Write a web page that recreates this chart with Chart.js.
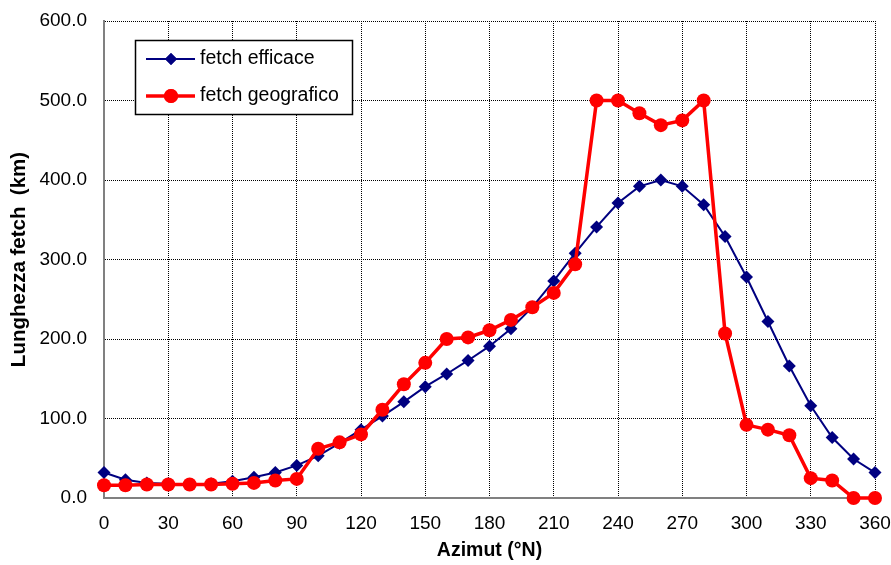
<!DOCTYPE html>
<html>
<head>
<meta charset="utf-8">
<script src="https://cdn.jsdelivr.net/npm/chart.js@4/dist/chart.umd.min.js"></script>
<style>
  html, body { margin: 0; padding: 0; background: #fff; }
  #wrap { width: 891px; height: 565px; }
</style>
</head>
<body>
<div id="wrap"><canvas id="fetchChart" width="891" height="565"></canvas></div>
<script>
// --- FETCH vs AZIMUTH ---

const azimuth = [0, 10, 20, 30, 40, 50, 60, 70, 80, 90, 100, 110, 120, 130, 140, 150, 160, 170, 180,
    190, 200, 210, 220, 230, 240, 250, 260, 270, 280, 290, 300, 310, 320, 330, 340, 350, 360];

const fetchEfficace = [32, 23, 19, 18, 17, 18, 21, 26, 32, 41, 53, 69, 86, 103, 121, 140, 156, 173, 191,
    213, 240, 273, 308, 341, 371, 392, 400, 392, 369, 329, 278, 222, 166, 116, 76, 49, 32];

const fetchGeografico = [16, 16, 17, 17, 17, 17, 18, 19, 22, 24, 62, 70, 80, 111, 143, 170, 200, 202, 211,
    224, 240, 258, 294, 500, 500, 484, 469, 475, 500, 207, 92, 86, 79, 25, 22, 0, 0];

const seriesNames = ['fetch efficace', 'fetch geografico'];
const yTicks = { min: 0, max: 600, step: 100 };
const xTicks = { min: 0, max: 360, step: 30 };

const FONT = 'Arial, "Liberation Sans", sans-serif';
const BLUE = '#000080';
const RED = '#ff0000';

const toPoints = (values) => azimuth.map((a, i) => ({ x: a, y: values[i] }));

// Legend box in the upper left of the plot, line + marker per entry
const boxLegend = {
    id: 'boxLegend',
    afterDraw(chart) {
        const ctx = chart.ctx;
        const x0 = 135, y0 = 40, w = 217, h = 74;
        ctx.save();
        ctx.fillStyle = '#fff';
        ctx.fillRect(x0, y0, w, h);
        ctx.strokeStyle = '#000';
        ctx.lineWidth = 1.5;
        ctx.strokeRect(x0 + 0.5, y0 + 0.5, w, h);

        const rows = [
            { y: 59, color: BLUE, width: 2, style: 'rectRot', radius: 6 },
            { y: 96, color: RED, width: 3.5, style: 'circle', radius: 7 }
        ];
        rows.forEach((r, i) => {
            ctx.strokeStyle = r.color;
            ctx.lineWidth = r.width;
            ctx.beginPath();
            ctx.moveTo(146, r.y);
            ctx.lineTo(195, r.y);
            ctx.stroke();
            ctx.fillStyle = r.color;
            Chart.helpers.drawPoint(ctx, { pointStyle: r.style, radius: r.radius, borderWidth: 0 }, 171, r.y);
            ctx.fill();

            ctx.fillStyle = '#000';
            ctx.font = '19.5px ' + FONT;
            ctx.textBaseline = 'middle';
            ctx.textAlign = 'left';
            ctx.fillText(seriesNames[i], 200, r.y);
        });
        ctx.restore();
    }
};

new Chart(document.getElementById('fetchChart'), {
    type: 'line',
    data: {
        datasets: [
            {
                label: seriesNames[0],
                data: toPoints(fetchEfficace),
                borderColor: BLUE,
                backgroundColor: BLUE,
                borderWidth: 2,
                pointStyle: 'rectRot',
                pointRadius: 6.5,
                pointBorderWidth: 0,
                tension: 0,
                order: 2,
                clip: false
            },
            {
                label: seriesNames[1],
                data: toPoints(fetchGeografico),
                borderColor: RED,
                backgroundColor: RED,
                borderWidth: 3.5,
                pointStyle: 'circle',
                pointRadius: 7,
                pointBorderWidth: 0,
                tension: 0,
                order: 1,
                clip: false
            }
        ]
    },
    options: {
        responsive: false,
        animation: false,
        layout: { padding: 0 },
        plugins: {
            legend: { display: false },
            tooltip: { enabled: false }
        },
        scales: {
            x: {
                type: 'linear',
                min: xTicks.min,
                max: xTicks.max,
                afterFit(scale) {
                    scale.height = 67;
                    scale.paddingLeft = 0;
                    scale.paddingRight = 16;
                },
                // dotted gridlines, solid grey axis line
                border: { display: true, color: '#808080', width: 2, dash: [1, 1] },
                grid: {
                    color: '#000',
                    lineWidth: 1,
                    drawTicks: false
                },
                ticks: {
                    stepSize: xTicks.step,
                    padding: 14,
                    color: '#000',
                    maxRotation: 0,
                    font: { family: FONT, size: 19 }
                },
                title: {
                    display: true,
                    text: 'Azimut (°N)',
                    color: '#000',
                    font: { family: FONT, size: 19.5, weight: 'bold' },
                    padding: { top: 0, bottom: 3 }
                }
            },
            y: {
                min: yTicks.min,
                max: yTicks.max,
                afterFit(scale) {
                    scale.width = 104;
                    scale.paddingTop = 21;
                    scale.paddingBottom = 0;
                },
                border: { display: true, color: '#808080', width: 2, dash: [1, 1] },
                grid: {
                    color: '#000',
                    lineWidth: 1,
                    drawTicks: false
                },
                ticks: {
                    stepSize: yTicks.step,
                    padding: 17,
                    color: '#000',
                    font: { family: FONT, size: 19 },
                    callback: (v) => v.toFixed(1)
                },
                title: {
                    display: true,
                    text: 'Lunghezza fetch  (km)',
                    color: '#000',
                    font: { family: FONT, size: 20.5, weight: 'bold' },
                    padding: { top: 7, bottom: 0 }
                }
            }
        }
    },
    plugins: [boxLegend]
});
</script>
</body>
</html>
